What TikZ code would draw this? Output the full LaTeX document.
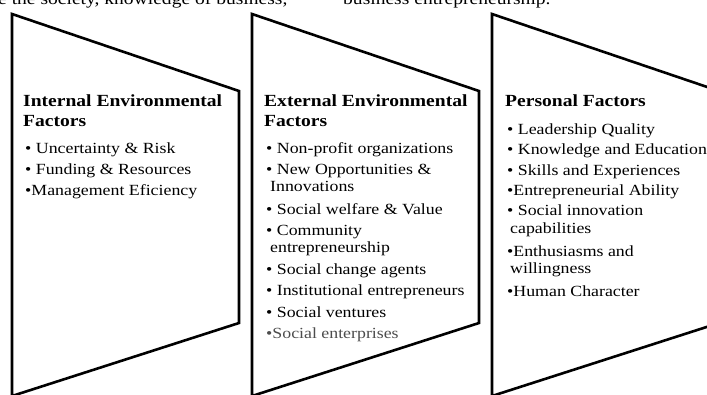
\documentclass[tikz,border=0pt]{standalone}
\usepackage{fontspec}
\setmainfont{Liberation Serif}[FakeStretch=1.15]
\tikzset{
  panel/.style={black, line width=2.6pt, line join=miter},
  head/.style={anchor=base west, inner sep=0pt, font=\fontsize{17}{19}\selectfont\bfseries},
  item/.style={anchor=base west, inner sep=0pt, font=\fontsize{15.5}{17}\selectfont},
  runtext/.style={anchor=base west, inner sep=0pt, font=\fontsize{17}{19}\selectfont}
}
\begin{document}
\begin{tikzpicture}[x=1pt,y=-1pt]

\useasboundingbox (0,0) rectangle (707,394);
\clip (0,0) rectangle (707,394);

% running text above the panels
\node[runtext] (run1) at (-2,4) {e the society, knowledge of business,};
\node[runtext] (run2) at (343,4) {business entrepreneurship.};

% the three panels
\foreach \x in {12,252,492}
{
\draw[panel] (\x,14) -- (\x+227,91) -- (\x+227,323) -- (\x,396) -- cycle;
}

% internal factors
\node[head] (inhead1) at (23,106) {Internal Environmental};
\node[head] (inhead2) at (23,126) {Factors};
\node[item] (in1) at (25,153) {• Uncertainty \& Risk};
\node[item] (in2) at (25,174) {• Funding \& Resources};
\node[item] (in3) at (25,195) {•Management Eficiency};

% external factors
\node[head] (exhead1) at (264,106) {External Environmental};
\node[head] (exhead2) at (264,126) {Factors};
\node[item] (ex1) at (266,153) {• Non-profit organizations};
\node[item] (ex2) at (266,174) {• New Opportunities \&};
\node[item] (ex2b) at (270,191) {Innovations};
\node[item] (ex3) at (266,214) {• Social welfare \& Value};
\node[item] (ex4) at (266,235) {• Community};
\node[item] (ex4b) at (270,252) {entrepreneurship};
\node[item] (ex5) at (266,274) {• Social change agents};
\node[item] (ex6) at (266,295) {• Institutional entrepreneurs};
\node[item] (ex7) at (266,317) {• Social ventures};
\node[item, black!70] (ex8) at (266,338) {•Social enterprises};

% personal factors
\node[head] (pehead) at (505,106) {Personal Factors};
\node[item] (pe1) at (507,134) {• Leadership Quality};
\node[item] (pe2) at (507,154) {• Knowledge and Education};
\node[item] (pe3) at (507,175) {• Skills and Experiences};
\node[item] (pe4) at (507,195) {•Entrepreneurial Ability};
\node[item] (pe5) at (507,215) {• Social innovation};
\node[item] (pe5b) at (510,233) {capabilities};
\node[item] (pe6) at (507,256) {•Enthusiasms and};
\node[item] (pe6b) at (510,273) {willingness};
\node[item] (pe7) at (507,296) {•Human Character};

\end{tikzpicture}
\end{document}
